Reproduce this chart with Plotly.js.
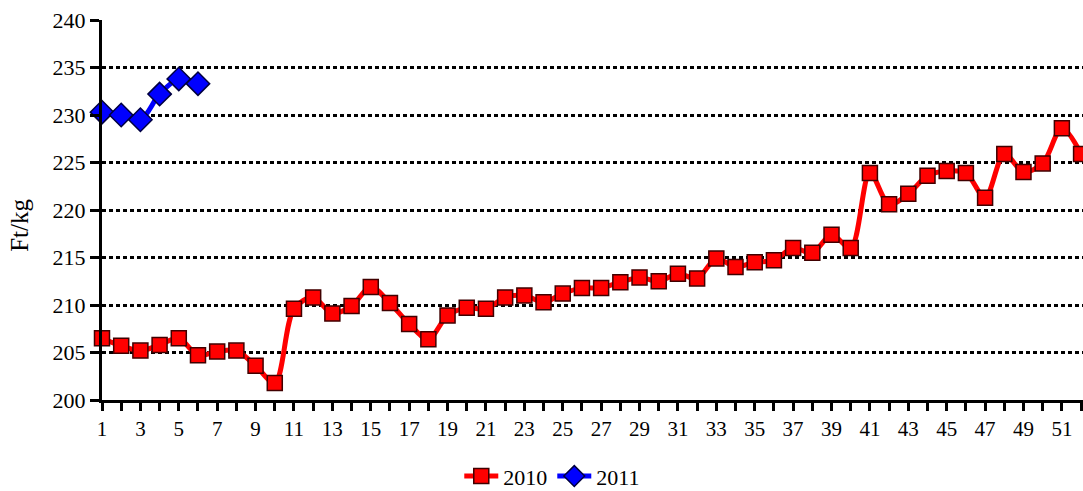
<!DOCTYPE html>
<html><head><meta charset="utf-8">
<script src="https://cdn.plot.ly/plotly-3.0.1.min.js"></script>
<style>html,body{margin:0;padding:0;background:#fff}#chart{width:1083px;height:491px}</style>
</head><body><div id="chart"></div>
<script>
const weeks2010 = Array.from({length:52},(_,i)=>i+1);
const values2010 = [206.5,205.7,205.2,205.8,206.5,204.7,205.1,205.2,203.6,201.8,
  209.6,210.8,209.1,209.9,211.9,210.2,208.0,206.4,208.9,209.7,
  209.6,210.8,211.0,210.3,211.2,211.8,211.8,212.4,212.9,212.5,
  213.3,212.8,214.9,214.0,214.5,214.7,216.0,215.5,217.4,216.0,
  223.9,220.6,221.7,223.6,224.1,223.9,221.3,225.9,224.0,224.9,
  228.6,225.9];
const weeks2011 = [1,2,3,4,5,6];
const values2011 = [230.3,230.0,229.5,232.2,233.8,233.3];
const yAxisTitle = 'Ft/kg';

const fontFam = "Liberation Serif";
const traces = [
  {x:weeks2010, y:values2010, name:'2010', type:'scatter', mode:'lines+markers',
   line:{color:'#ff0000', width:5, shape:'spline', smoothing:0.9},
   marker:{symbol:'square', size:15, color:'#ff0000', line:{color:'#400000', width:1.5}},
   cliponaxis:false},
  {x:weeks2011, y:values2011, name:'2011', type:'scatter', mode:'lines+markers',
   line:{color:'#0000ff', width:5, shape:'spline', smoothing:0.9},
   marker:{symbol:'diamond', size:18, color:'#0000ff', line:{color:'#000040', width:1.5}},
   cliponaxis:false}
];
const layout = {
  width:1083, height:491,
  margin:{l:102, r:0, t:20, b:91, autoexpand:false},
  paper_bgcolor:'#fff', plot_bgcolor:'#fff',
  font:{family:fontFam, color:'#000', size:20},
  showlegend:true,
  legend:{orientation:'h', x:0.459, xanchor:'center', yref:'container', y:0.03, yanchor:'middle',
    font:{family:fontFam, size:22, color:'#000'}, traceorder:'normal', itemwidth:34},
  xaxis:{range:[1,52.1], tickmode:'linear', tick0:1, dtick:1, ticklabelstep:2,
    ticks:'outside', ticklen:8, tickwidth:3, tickcolor:'#000',
    showline:true, linecolor:'#000', linewidth:3, showgrid:false, zeroline:false,
    tickfont:{family:fontFam, size:21, color:'#000'}},
  yaxis:{range:[200,240], tickmode:'linear', tick0:200, dtick:5,
    ticks:'outside', ticklen:9, tickwidth:3, tickcolor:'#000',
    showline:true, linecolor:'#000', linewidth:3,
    showgrid:true, gridcolor:'#000', gridwidth:3, griddash:'4px,3px', zeroline:false,
    tickfont:{family:fontFam, size:22, color:'#000'}},
  annotations:[{text:yAxisTitle, xref:'paper', yref:'paper', x:-0.084, y:0.46,
    xanchor:'center', yanchor:'middle', textangle:-90, showarrow:false,
    font:{family:fontFam, size:25, color:'#000'}}]
};
Plotly.newPlot('chart', traces, layout, {displayModeBar:false, staticPlot:true});
</script></body></html>
